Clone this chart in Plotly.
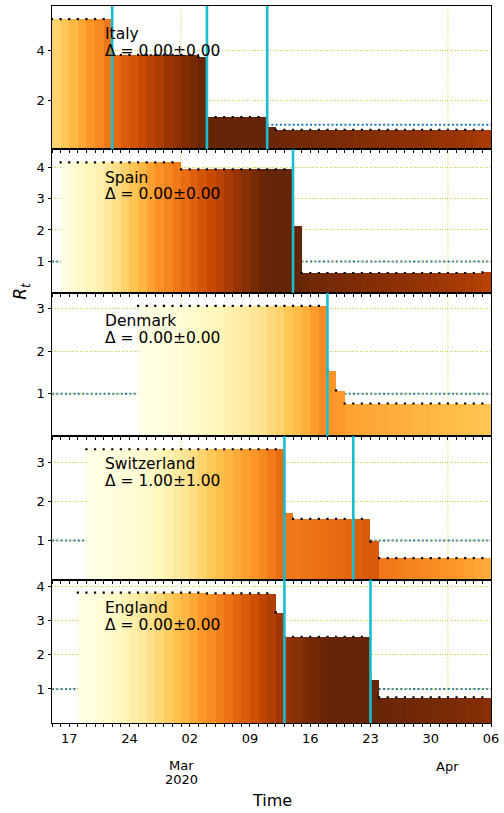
import pandas as pd
import plotly.graph_objects as go
from plotly.subplots import make_subplots
from plotly.colors import sequential

# ---------------- data ----------------
countries = ["Italy", "Spain", "Denmark", "Switzerland", "England"]
delta_labels = ["Δ = 0.00±0.00", "Δ = 0.00±0.00", "Δ = 0.00±0.00",
                "Δ = 1.00±1.00", "Δ = 0.00±0.00"]
first_days = ["2020-02-15", "2020-02-16", "2020-02-25", "2020-02-19", "2020-02-18"]

rt_italy = [5.28, 5.28, 5.28, 5.28, 5.28, 5.28, 5.28,
            3.83, 3.83, 3.83, 3.83, 3.83, 3.83, 3.83, 3.83, 3.83, 3.83,
            3.74,
            1.31, 1.31, 1.31, 1.31, 1.31, 1.31, 1.31,
            0.89,
            0.79, 0.79, 0.79, 0.79, 0.79, 0.79, 0.79, 0.79, 0.79, 0.79,
            0.79, 0.79, 0.79, 0.79, 0.79, 0.79, 0.79, 0.79, 0.79, 0.79,
            0.79, 0.79, 0.79, 0.79, 0.79]
col_italy = [0.32, 0.36, 0.41, 0.46, 0.51, 0.55, 0.60,
             0.65, 0.69, 0.72, 0.76, 0.80, 0.83, 0.87, 0.90, 0.93, 0.96,
             0.99,
             1.0, 1.0, 1.0, 1.0, 1.0, 1.0, 1.0,
             0.99,
             0.98, 0.975, 0.97, 0.965, 0.96, 0.955, 0.95, 0.945, 0.94, 0.935,
             0.93, 0.925, 0.92, 0.915, 0.91, 0.905, 0.90, 0.895, 0.89, 0.88,
             0.875, 0.87, 0.86, 0.85, 0.84]

rt_spain = [4.15, 4.15, 4.15, 4.15, 4.15, 4.15, 4.15, 4.15, 4.15, 4.15, 4.15, 4.15, 4.15, 4.15,
            3.93, 3.93, 3.93, 3.93, 3.93, 3.93, 3.93, 3.93, 3.93, 3.93, 3.93, 3.93, 3.93,
            2.10,
            0.63, 0.63, 0.63, 0.63, 0.63, 0.63, 0.63, 0.63, 0.63, 0.63, 0.63,
            0.63, 0.63, 0.63, 0.63, 0.63, 0.63, 0.63, 0.63, 0.63, 0.63,
            0.65]
col_spain = [0.01, 0.05, 0.09, 0.13, 0.17, 0.22, 0.27, 0.32, 0.37, 0.42, 0.47, 0.52, 0.56, 0.60,
             0.64, 0.68, 0.72, 0.76, 0.80, 0.84, 0.88, 0.92, 0.96, 0.99, 1.0, 1.0, 1.0,
             1.0,
             0.98, 0.97, 0.965, 0.96, 0.95, 0.945, 0.94, 0.93, 0.925, 0.92, 0.91,
             0.90, 0.895, 0.89, 0.88, 0.87, 0.86, 0.85, 0.84, 0.83, 0.82,
             0.80]

rt_denmark = [3.07, 3.07, 3.07, 3.07, 3.07, 3.07, 3.07, 3.07, 3.07, 3.07, 3.07,
              3.07, 3.07, 3.07, 3.07, 3.07, 3.07, 3.07, 3.07, 3.07, 3.07, 3.07,
              1.55, 1.08,
              0.77, 0.77, 0.77, 0.77, 0.77, 0.77, 0.77, 0.77, 0.77,
              0.77, 0.77, 0.77, 0.77, 0.77, 0.77, 0.77, 0.77]
col_denmark = [0.0, 0.01, 0.02, 0.03, 0.04, 0.06, 0.08, 0.10, 0.12, 0.14, 0.16,
               0.18, 0.20, 0.23, 0.26, 0.29, 0.32, 0.36, 0.40, 0.44, 0.49, 0.54,
               0.51, 0.50,
               0.47, 0.465, 0.46, 0.455, 0.45, 0.44, 0.435, 0.43, 0.42,
               0.415, 0.41, 0.40, 0.395, 0.39, 0.38, 0.375, 0.37]

rt_switzerland = [3.33, 3.33, 3.33, 3.33, 3.33, 3.33, 3.33, 3.33, 3.33, 3.33, 3.33, 3.33,
                  3.33, 3.33, 3.33, 3.33, 3.33, 3.33, 3.33, 3.33, 3.33, 3.33, 3.33,
                  1.69,
                  1.55, 1.55, 1.55, 1.55, 1.55, 1.55, 1.55, 1.55, 1.55,
                  0.97,
                  0.55, 0.55, 0.55, 0.55, 0.55, 0.55, 0.55, 0.55, 0.55, 0.55, 0.55, 0.55, 0.55]
col_switzerland = [0.0, 0.01, 0.02, 0.03, 0.04, 0.05, 0.07, 0.09, 0.12, 0.16, 0.20, 0.24,
                   0.28, 0.32, 0.36, 0.39, 0.42, 0.45, 0.48, 0.51, 0.55, 0.59, 0.64,
                   0.60,
                   0.60, 0.61, 0.62, 0.63, 0.64, 0.65, 0.66, 0.68, 0.70,
                   0.70,
                   0.60, 0.59, 0.58, 0.57, 0.56, 0.55, 0.535, 0.52, 0.51, 0.495, 0.48, 0.465, 0.45]

rt_england = [3.83, 3.83, 3.83, 3.83, 3.83, 3.83, 3.83, 3.83, 3.83, 3.83, 3.83, 3.83, 3.83, 3.83, 3.83,
              3.81, 3.81, 3.81, 3.81, 3.81, 3.81, 3.81, 3.81,
              3.25,
              2.53, 2.53, 2.53, 2.53, 2.53, 2.53, 2.53, 2.53, 2.53, 2.53,
              1.27,
              0.75, 0.75, 0.75, 0.75, 0.75, 0.75, 0.75, 0.75, 0.75, 0.75, 0.75, 0.75, 0.75]
col_england = [0.0, 0.02, 0.04, 0.07, 0.10, 0.14, 0.18, 0.22, 0.26, 0.30, 0.34, 0.38, 0.42, 0.46, 0.50,
               0.54, 0.58, 0.62, 0.66, 0.70, 0.74, 0.78, 0.82,
               0.86,
               0.89, 0.92, 0.95, 0.97, 0.99, 1.0, 1.0, 1.0, 1.0, 1.0,
               1.0,
               0.99, 0.985, 0.98, 0.975, 0.97, 0.965, 0.96, 0.955, 0.95, 0.94, 0.935, 0.93, 0.92]

rt_series = [rt_italy, rt_spain, rt_denmark, rt_switzerland, rt_england]
color_series = [col_italy, col_spain, col_denmark, col_switzerland, col_england]

interventions = [["2020-02-22", "2020-03-04", "2020-03-11"],
                 ["2020-03-14"],
                 ["2020-03-18"],
                 ["2020-03-13", "2020-03-21"],
                 ["2020-03-13", "2020-03-23"]]

yticks = [[2, 4], [1, 2, 3, 4], [1, 2, 3], [1, 2, 3], [1, 2, 3, 4]]

x_start, x_end = "2020-02-15", "2020-04-06"
week_tick_dates = ["2020-02-17", "2020-02-24", "2020-03-02", "2020-03-09",
                   "2020-03-16", "2020-03-23", "2020-03-30", "2020-04-06"]
week_tick_labels = ["17", "24", "02", "09", "16", "23", "30", "06"]
month_tick_dates = ["2020-03-01", "2020-04-01"]
month_tick_labels = [["Mar", "2020"], ["Apr"]]

# ---------------- styling ----------------
FONT = "DejaVu Sans"
GRID = "rgba(190,190,20,0.75)"
CYAN = "#17becf"
BLUE = "#1f77b4"
DAY_MS = 86400000

colorscale = [[i / (len(sequential.YlOrBr) - 1), c] for i, c in enumerate(sequential.YlOrBr)]

fig = make_subplots(rows=5, cols=1, shared_xaxes=True, vertical_spacing=0)

shapes = []
annotations = []
for i, (name, rt, cv) in enumerate(zip(countries, rt_series, color_series)):
    row = i + 1
    days = pd.date_range(first_days[i], periods=len(rt), freq="D")
    centers = days + pd.Timedelta(hours=12)
    fig.add_trace(go.Bar(x=centers, y=rt, width=DAY_MS,
                         marker=dict(color=cv, colorscale=colorscale, cmin=0, cmax=1,
                                     line=dict(width=0)),
                         showlegend=False, hoverinfo="skip"), row=row, col=1)
    fig.add_trace(go.Scatter(x=days, y=rt, mode="markers",
                             marker=dict(symbol="square", size=2.2, color="black"),
                             showlegend=False, hoverinfo="skip"), row=row, col=1)

    xs = "" if row == 1 else str(row)
    xref, yref = "x" + xs, "y" + xs
    for md in month_tick_dates:
        shapes.append(dict(type="line", xref=xref, yref=yref + " domain", x0=md, x1=md,
                           y0=0, y1=1, layer="below",
                           line=dict(color=GRID, width=1, dash="1px,1.5px")))
    shapes.append(dict(type="line", xref=xref + " domain", yref=yref, x0=0, x1=1, y0=1, y1=1,
                       layer="below", line=dict(color=BLUE, width=2, dash="2px,2.3px")))
    for d in interventions[i]:
        shapes.append(dict(type="line", xref=xref, yref=yref + " domain", x0=d, x1=d,
                           y0=0, y1=1, layer="above", line=dict(color=CYAN, width=2.6)))
    annotations.append(dict(text=name, xref=xref + " domain", yref=yref + " domain",
                            x=0.119, y=0.803, xanchor="left", yanchor="middle", borderpad=0,
                            showarrow=False, font=dict(family=FONT, size=15.5, color="black")))
    annotations.append(dict(text=delta_labels[i], xref=xref + " domain", yref=yref + " domain",
                            x=0.119, y=0.686, xanchor="left", yanchor="middle", borderpad=0,
                            showarrow=False, font=dict(family=FONT, size=15.5, color="black")))

    yname = "yaxis" if row == 1 else f"yaxis{row}"
    xname = "xaxis" if row == 1 else f"xaxis{row}"
    fig.layout[yname].update(
        range=[0, 1.1 * max(rt)], tickmode="array", tickvals=yticks[i],
        ticks="outside", ticklen=3.5, tickwidth=1, tickcolor="black",
        showline=True, mirror=True, linecolor="black", linewidth=1,
        showgrid=True, gridcolor=GRID, gridwidth=1, griddash="1px,1.5px",
        zeroline=False, tickfont=dict(family=FONT, size=13, color="black"))
    fig.layout[xname].update(
        type="date", range=[x_start, x_end], tickmode="array",
        tickvals=week_tick_dates, ticktext=week_tick_labels,
        ticks="outside", ticklen=3, tickwidth=1, tickcolor="black",
        minor=dict(tick0=x_start, dtick=DAY_MS, ticks="outside", ticklen=3,
                   tickwidth=1, tickcolor="black", showgrid=False),
        showline=True, mirror=True, linecolor="black", linewidth=1,
        showgrid=False, zeroline=False, showticklabels=(row == 5),
        tickfont=dict(family=FONT, size=13, color="black"))

month_y = [[-0.0599, -0.0794], [-0.0613]]
for md, labs, ys in zip(month_tick_dates, month_tick_labels, month_y):
    for lab, yy in zip(labs, ys):
        annotations.append(dict(text=lab, xref="x5", yref="paper", x=md, y=yy,
                                xanchor="center", yanchor="middle", showarrow=False,
                                font=dict(family=FONT, size=13, color="black")))

annotations.append(dict(text="Time", xref="paper", yref="paper", x=0.5, y=-0.1086,
                        xanchor="center", yanchor="middle", showarrow=False,
                        font=dict(family=FONT, size=16, color="black")))
annotations.append(dict(text="<i>R</i><sub><i>t</i></sub>", xref="paper", yref="paper",
                        x=-0.068, y=0.603, xanchor="center", yanchor="middle",
                        textangle=-90, showarrow=False,
                        font=dict(family=FONT, size=17, color="black")))

fig.update_layout(width=504, height=813,
                  margin=dict(l=52, r=10, t=5, b=90),
                  plot_bgcolor="white", paper_bgcolor="white",
                  font=dict(family=FONT, color="black"),
                  barmode="overlay", bargap=0,
                  shapes=shapes, annotations=annotations)

fig.write_html("out.html", config={"displayModeBar": False},
               post_script="document.body.style.margin='0px';document.body.style.padding='0px';")
